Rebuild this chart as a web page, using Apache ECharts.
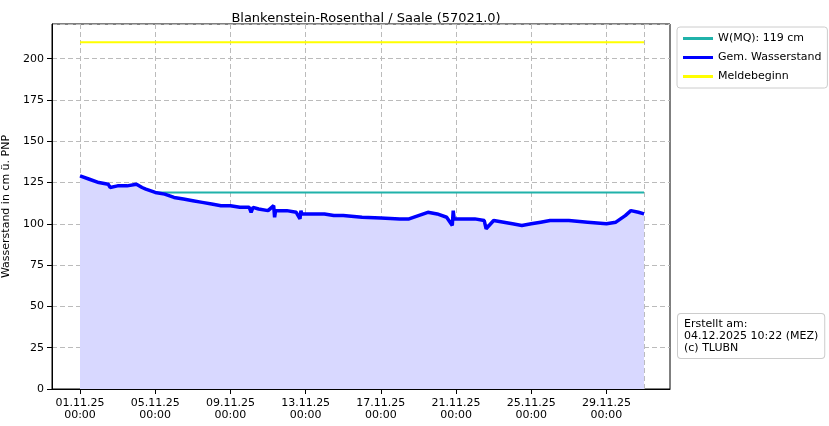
<!DOCTYPE html>
<html>
<head>
<meta charset="utf-8">
<script src="https://cdn.jsdelivr.net/npm/echarts@6/dist/echarts.min.js"></script>
<style>html,body{margin:0;background:#fff}#chart{width:829px;height:426px}</style>
</head>
<body>
<div id="chart"></div>
<script>
// x = days since 01.11.25 00:00
var tickDays = [0, 4, 8, 12, 16, 20, 24, 28, 30];
var tickLabels = ['01.11.25\n00:00', '05.11.25\n00:00', '09.11.25\n00:00', '13.11.25\n00:00', '17.11.25\n00:00',
    '21.11.25\n00:00', '25.11.25\n00:00', '29.11.25\n00:00', '01.12.25\n00:00'];
var levelDays = [0, 0.5, 1, 1.5, 1.6, 2, 2.5, 3, 3.3, 3.5, 4, 4.5, 5, 5.5, 6, 6.5, 7, 7.5, 8, 8.5, 9, 9.1, 9.2, 9.5, 10,
    10.3, 10.35, 10.4, 10.5, 11, 11.5, 11.7, 11.75, 11.8, 12, 13, 13.5, 14, 15, 16, 17, 17.5, 18, 18.5, 19, 19.5, 19.8,
    19.85, 19.9, 20, 20.5, 21, 21.5, 21.6, 22, 23, 23.5, 24, 24.5, 25, 26, 27, 28, 28.5, 29, 29.3, 29.7, 30];
var levelValues = [129, 127, 125, 124, 122, 123, 123, 124, 122, 121, 119, 118, 116, 115, 114, 113, 112, 111, 111, 110,
    110, 107, 110, 109, 108, 111, 104, 108, 108, 108, 107, 103, 108, 106, 106, 106, 105, 105, 104, 103.5, 103, 103, 105,
    107, 106, 104, 99, 108, 103, 104, 103, 103, 102, 97, 102, 100, 99, 100, 101, 102, 102, 101, 100, 101, 105, 108, 107, 106];
var mqValue = 119;
var meldeValue = 210;

var chart = echarts.init(document.getElementById('chart'));
var font = 'DejaVu Sans';

chart.setOption({
    animation: false,
    textStyle: { fontFamily: font },
    title: {
        text: 'Blankenstein-Rosenthal / Saale (57021.0)',
        left: 361, top: 7, textAlign: 'center',
        textStyle: { fontSize: 13, fontWeight: 'normal', color: '#000', fontFamily: font }
    },
    grid: {
        left: 52, right: 159, top: 24, bottom: 37,
        outerBoundsMode: 'none', containLabel: false,
        show: true, borderColor: '#000', borderWidth: 1
    },
    legend: {
        orient: 'vertical', left: 677, top: 27,
        itemWidth: 30, itemHeight: 3, itemGap: 8,
        padding: [6, 6], borderColor: '#ccc', borderWidth: 1, borderRadius: 3,
        textStyle: { fontSize: 11, color: '#000' },
        data: [
            { name: 'W(MQ): 119 cm', icon: 'rect' },
            { name: 'Gem. Wasserstand', icon: 'rect' },
            { name: 'Meldebeginn', icon: 'rect' }
        ]
    },
    xAxis: {
        type: 'value', min: -1.49, max: 31.38,
        axisLine: { onZero: false, lineStyle: { color: '#000' } },
        axisTick: { customValues: tickDays, lineStyle: { color: '#000' } },
        axisLabel: {
            customValues: tickDays, color: '#000', fontSize: 11, lineHeight: 12, hideOverlap: false,
            formatter: function (v) { return tickLabels[tickDays.indexOf(v)]; }
        },
        splitLine: { show: true, lineStyle: { type: [5, 3], color: '#bbb' } }
    },
    yAxis: {
        type: 'value', min: 0, max: 221, interval: 25,
        name: 'Wasserstand in cm ü. PNP', nameLocation: 'middle', nameGap: 36,
        nameTextStyle: { fontSize: 11, color: '#000' },
        axisLine: { show: true, onZero: false, lineStyle: { color: '#000' } },
        axisTick: { show: true, lineStyle: { color: '#000' } },
        axisLabel: { color: '#000', fontSize: 11, showMaxLabel: false },
        splitLine: { show: true, lineStyle: { type: [5, 3], color: '#bbb' } }
    },
    series: [
        {
            name: 'W(MQ): 119 cm', type: 'line', symbol: 'none', color: '#20b2aa',
            lineStyle: { width: 2 }, z: 3,
            data: [[0, mqValue], [30, mqValue]]
        },
        {
            name: 'Gem. Wasserstand', type: 'line', symbol: 'none', color: '#0000ff',
            lineStyle: { width: 3.5 }, areaStyle: { color: '#d8d8ff', opacity: 1 }, z: 4,
            data: levelDays.map(function (d, i) { return [d, levelValues[i]]; })
        },
        {
            name: 'Meldebeginn', type: 'line', symbol: 'none', color: '#ffff00',
            lineStyle: { width: 2 }, z: 3,
            data: [[0, meldeValue], [30, meldeValue]]
        }
    ],
    graphic: [{
        type: 'text', left: 677, top: 313,
        style: {
            text: 'Erstellt am:\n04.12.2025 10:22 (MEZ)\n(c) TLUBN',
            font: '11px DejaVu Sans', fill: '#000', lineHeight: 12,
            padding: [4, 6], borderColor: '#ccc', borderWidth: 1, borderRadius: 3, backgroundColor: '#fff'
        }
    }]
});
</script>
</body>
</html>
